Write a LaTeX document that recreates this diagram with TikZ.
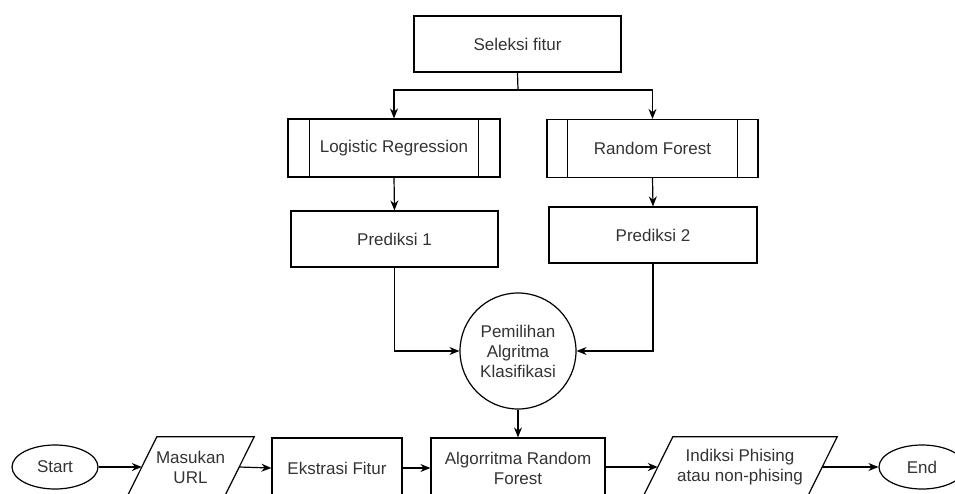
\documentclass[tikz,border=0pt]{standalone}
\usepackage{fontspec}
\setmainfont{Liberation Sans}
\usetikzlibrary{arrows.meta,shapes.geometric}
\begin{document}
\begin{tikzpicture}[x=1pt,y=-1pt,
  every node/.style={font=\fontsize{17}{20}\selectfont, text=black!80, align=center},
  box/.style={draw, line width=1.2pt, rectangle, inner sep=0pt},
  proc/.style={box},
  para/.style={rectangle, inner sep=0pt, minimum height=60pt},
  term/.style={draw, line width=1.2pt, ellipse, minimum width=86pt, minimum height=44pt, inner sep=0pt},
  conn/.style={line width=1.2pt, -{Stealth[length=10pt,width=8pt]}},
  plain/.style={line width=1.2pt}
]
\useasboundingbox (0,0) rectangle (955,493);
\clip (0,0) rectangle (955,493);

% top part
\node[box, minimum width=207pt, minimum height=56pt] (sel) at (517.5,44) {Seleksi fitur};
\node[proc, minimum width=212pt, minimum height=58pt] (lr) at (394,148) {Logistic Regression};
\node[proc, minimum width=211pt, minimum height=58pt] (rf) at (652.5,148.5) {Random Forest};
\draw[plain] ([xshift=22pt]lr.north west) -- ([xshift=22pt]lr.south west);
\draw[plain] ([xshift=-22pt]lr.north east) -- ([xshift=-22pt]lr.south east);
\draw[plain] ([xshift=21pt]rf.north west) -- ([xshift=21pt]rf.south west);
\draw[plain] ([xshift=-21pt]rf.north east) -- ([xshift=-21pt]rf.south east);

\node[box, minimum width=207pt, minimum height=56pt] (p1) at (394.5,239) {Prediksi 1};
\node[box, minimum width=208pt, minimum height=56pt] (p2) at (653,235) {Prediksi 2};

\node[draw, line width=1.2pt, circle, minimum size=116pt, inner sep=0pt] (pil) at (518,351) {Pemilihan\\Algritma\\Klasifikasi};

\coordinate (j) at (518,90);
\draw[plain] (sel.south) -- (j);
\draw[conn] (j) -| (lr.north);
\draw[conn] (j) -| (rf.north);
\draw[conn] (lr.south) -- (p1.north);
\draw[conn] (rf.south) -- (p2.north);
\draw[conn] (p1.south) |- (pil.west);
\draw[conn] (p2.south) |- (pil.east);

% bottom row
\node[term] (st) at (55,467) {Start};
\node[para, minimum width=97pt] (mu) at (190.5,467) {Masukan\\URL};
\draw[plain] ([xshift=15pt]mu.north west) -- ([xshift=15pt]mu.north east)
  -- ([xshift=-15pt]mu.south east) -- ([xshift=-15pt]mu.south west) -- cycle;
\node[box, minimum width=130pt, minimum height=60pt] (ek) at (337,468) {Ekstrasi Fitur};
\node[box, minimum width=174pt, minimum height=60pt] (alg) at (518,468) {Algorritma Random\\Forest};
\node[para, minimum width=164pt] (ind) at (740,467) {Indiksi Phising\\atau non-phising};
\draw[plain] ([xshift=15pt]ind.north west) -- ([xshift=15pt]ind.north east)
  -- ([xshift=-15pt]ind.south east) -- ([xshift=-15pt]ind.south west) -- cycle;
\node[term] (en) at (922,467) {End};

\draw[conn] (pil.south) -- (alg.north);
\draw[conn] (st.east) -- (mu.west);
\draw[conn] (mu.east) -- (ek.west);
\draw[conn] (ek.east) -- (ek.east -| alg.west);
\draw[conn] (alg.east |- ind.west) -- (ind.west);
\draw[conn] (ind.east) -- (en.west);
\end{tikzpicture}
\end{document}
